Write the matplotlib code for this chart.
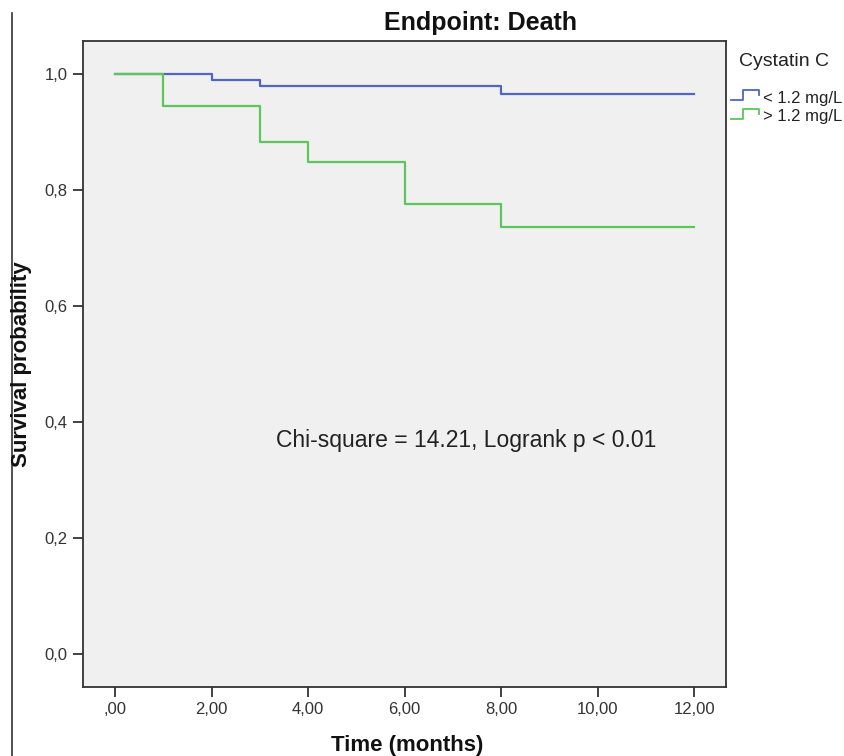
import matplotlib
matplotlib.use("Agg")
import matplotlib.pyplot as plt
from matplotlib.lines import Line2D

plt.rcParams['font.family'] = ['Liberation Sans', 'DejaVu Sans']

# ---- data ----
series_labels = ["< 1.2 mg/L", "> 1.2 mg/L"]
blue_times = [0, 2, 3, 8, 12]
blue_surv = [1.0, 0.990, 0.979, 0.966, 0.966]
green_times = [0, 1, 3, 4, 6, 8, 12]
green_surv = [1.0, 0.945, 0.883, 0.849, 0.776, 0.737, 0.737]
series_colors = ["#4f66c2", "#5cc65c"]

x_ticks = [0, 2, 4, 6, 8, 10, 12]
x_ticklabels = [",00", "2,00", "4,00", "6,00", "8,00", "10,00", "12,00"]
y_ticks = [0.0, 0.2, 0.4, 0.6, 0.8, 1.0]
y_ticklabels = ["0,0", "0,2", "0,4", "0,6", "0,8", "1,0"]

title = "Endpoint: Death"
xlabel = "Time (months)"
ylabel = "Survival probability"
legend_title = "Cystatin C"
annotation = "Chi-square = 14.21, Logrank p < 0.01"

W, H = 844, 756
fig = plt.figure(figsize=(W / 100, H / 100), dpi=100)
fig.patch.set_facecolor("white")
ax = fig.add_axes([83 / W, 1 - 687 / H, (726 - 83) / W, (687 - 41) / H])
ax.set_facecolor("#f0f0f0")

for t, s, c in zip([blue_times, green_times], [blue_surv, green_surv], series_colors):
    ax.step(t, s, where="post", color=c, lw=1.6, zorder=3)

ax.set_xlim(-0.663, 12.66)
ax.set_ylim(-0.0569, 1.0569)
ax.set_xticks(x_ticks)
ax.set_xticklabels(x_ticklabels)
ax.set_yticks(y_ticks)
ax.set_yticklabels(y_ticklabels)
ax.tick_params(direction="out", length=7, width=1.3, colors="#333333", labelsize=12, pad=4)
for sp in ax.spines.values():
    sp.set_color("#333333")
    sp.set_linewidth(1.3)

fig.text(276 / W, 1 - 440 / H, annotation, fontsize=16.5, color="#222222",
         va="center", ha="left")

fig.text(480 / W, 1 - 23 / H, title, ha="center", va="center", fontsize=18,
         fontweight="bold", color="#111111")
fig.text(407 / W, 1 - 745 / H, xlabel, ha="center", va="center", fontsize=16,
         fontweight="bold", color="#111111")
fig.text(22 / W, 1 - 364 / H, ylabel, ha="center", va="center", fontsize=16,
         fontweight="bold", color="#111111", rotation=90)

# outer frame line at left
fig.add_artist(Line2D([12 / W, 12 / W], [0, 1 - 13 / H], color="#333333", lw=1.2))

# legend
fig.text(739 / W, 1 - 62 / H, legend_title, ha="left", va="center", fontsize=14, color="#222222")
icon = [(0, 0), (0.43, 0), (0.43, 1), (1.0, 1), (1.0, 0.5)]
for i, (lab, c) in enumerate(zip(series_labels, series_colors)):
    yc = 98 + i * 19
    xs = [(731 + px * 28) / W for px, py in icon]
    ys = [1 - (yc + 2 - py * 10) / H for px, py in icon]
    fig.add_artist(Line2D(xs, ys, color=c, lw=1.3))
    fig.text(763 / W, 1 - yc / H, lab, ha="left", va="center", fontsize=12, color="#222222")

fig.savefig("out.png", dpi=100)
